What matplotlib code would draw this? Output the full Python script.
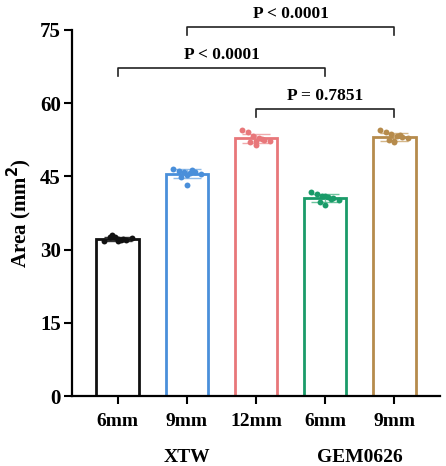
#!/usr/bin/env python3
"""Bar chart of area per group with individual points, SD error bars and P-value brackets."""

import numpy as np
import matplotlib
matplotlib.use("Agg")
import matplotlib.pyplot as plt

plt.rcParams["font.family"] = ["Liberation Serif", "DejaVu Serif"]
plt.rcParams["font.weight"] = "bold"

# data
categories = ["6mm", "9mm", "12mm", "6mm", "9mm"]
groups = ["XTW", "GEM0626"]
xtw_6mm = [31.8, 32.5, 32.6, 32.0, 31.9, 32.3, 32.9, 31.7, 32.1, 32.2]
xtw_9mm = [46.6, 46.1, 45.8, 45.6, 45.9, 45.4, 44.9, 45.3, 46.3, 43.2]
xtw_12mm = [54.4, 54.0, 53.2, 52.8, 52.5, 52.2, 52.0, 51.5, 52.7, 52.3]
gem_6mm = [41.8, 41.3, 41.0, 40.7, 40.5, 40.2, 39.8, 40.9, 40.4, 39.1]
gem_9mm = [54.4, 54.0, 53.6, 53.3, 53.0, 52.8, 52.4, 52.0, 53.5, 52.2]
comparisons = [(1, 4, "P < 0.0001"), (0, 3, "P < 0.0001"), (2, 4, "P = 0.7851")]
bracket_y = [75.6, 67.2, 58.8]

series = [xtw_6mm, xtw_9mm, xtw_12mm, gem_6mm, gem_9mm]
colors = ["#111111", "#4a8fda", "#e8777a", "#1a9b69", "#b68b4c"]
err_colors = ["#333333", "#8fbbe8", "#f0a9ab", "#6cc49e", "#d4b688"]
offsets = [-0.20, -0.12, -0.04, 0.04, 0.12, 0.20, -0.08, 0.0, 0.08, 0.0]

fig = plt.figure(figsize=(4.46, 4.66), dpi=100)
ax = fig.add_axes([0.161, 0.150, 0.826, 0.786])

x = np.arange(len(series))
for i, vals in enumerate(series):
    vals = np.array(vals)
    mean = vals.mean()
    sd = vals.std(ddof=1)
    ax.bar(i, mean, width=0.62, facecolor="white", edgecolor=colors[i],
           linewidth=2.0, zorder=2)
    ax.scatter(i + np.array(offsets), vals, s=18, color=colors[i], zorder=4,
               linewidths=0)
    ax.errorbar(i, mean, yerr=sd, color=err_colors[i], capsize=10,
                elinewidth=1.0, capthick=1.0, zorder=3)

for (a, b, label), y in zip(comparisons, bracket_y):
    drop = 1.6
    ax.plot([a, a, b, b], [y - drop, y, y, y - drop], color="#222222",
            linewidth=1.2, clip_on=False)
    ax.text((a + b) / 2, y + 1.1, label, ha="center", va="bottom",
            fontsize=12.5, fontweight="bold", clip_on=False)

ax.set_xlim(-0.667, 4.667)
ax.set_ylim(0, 75)
ax.set_yticks([0, 15, 30, 45, 60, 75])
ax.set_xticks(x)
ax.set_xticklabels(categories, fontsize=14, fontweight="bold")
ax.tick_params(axis="y", labelsize=15, width=1.5, length=6, pad=2)
ax.tick_params(axis="x", width=1.5, length=6, pad=6)
for lab in ax.get_yticklabels():
    lab.set_fontweight("bold")

ax.spines["top"].set_visible(False)
ax.spines["right"].set_visible(False)
ax.spines["left"].set_linewidth(1.6)
ax.spines["bottom"].set_linewidth(1.6)

ax.set_ylabel("Area (mm$^\\mathbf{2}$)", fontsize=15, fontweight="bold", labelpad=4)

ax.text(1, -0.167, groups[0], transform=ax.get_xaxis_transform(), ha="center",
        va="center", fontsize=14, fontweight="bold")
ax.text(3.5, -0.167, groups[1], transform=ax.get_xaxis_transform(), ha="center",
        va="center", fontsize=14, fontweight="bold")

fig.savefig("out.png", dpi=100)
